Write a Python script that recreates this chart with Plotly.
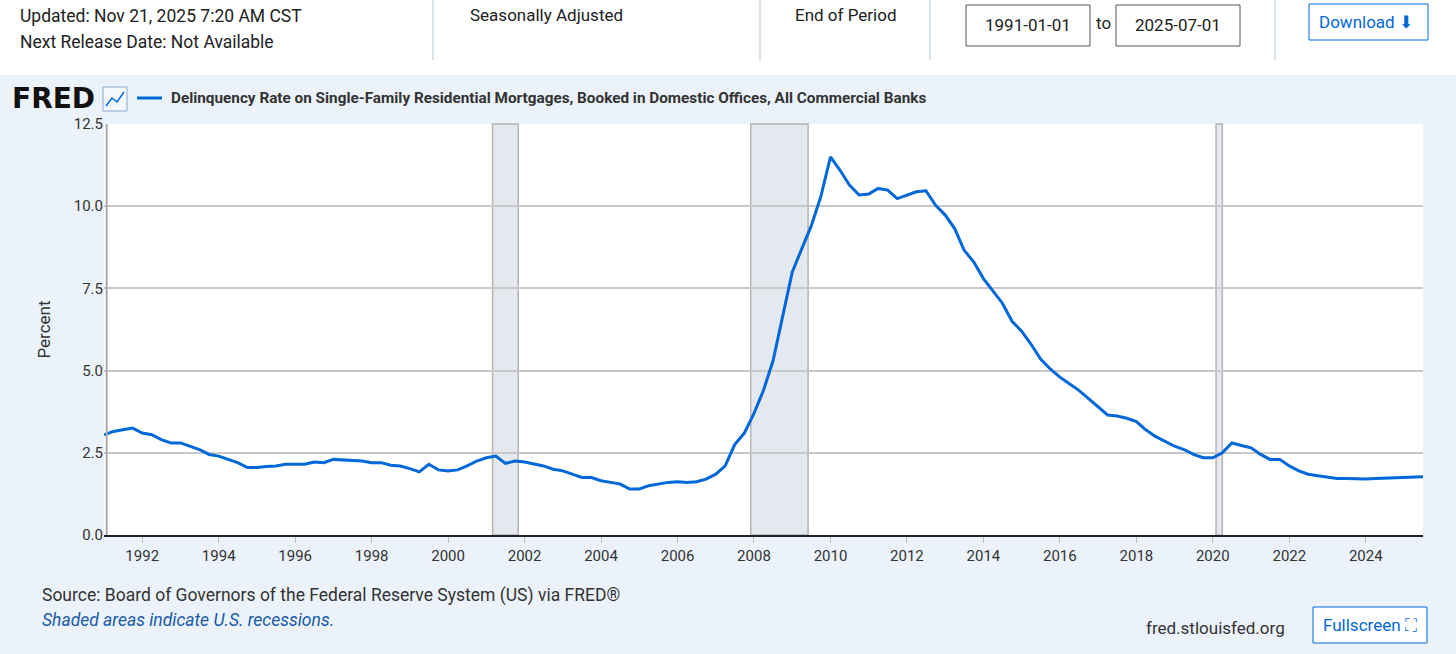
import plotly.graph_objects as go

start_year = 1991
values = [
 3.05,3.15,3.2,3.25, 3.1,3.05,2.9,2.8, 2.8,2.7,2.6,2.45, 2.4,2.3,2.2,2.05,
 2.05,2.08,2.1,2.15, 2.15,2.15,2.22,2.2, 2.3,2.28,2.27,2.25, 2.2,2.2,2.12,2.1,
 2.02,1.92,2.15,1.98, 1.95,1.98,2.1,2.25, 2.35,2.4,2.18,2.25, 2.22,2.15,2.1,2.0,
 1.95,1.85,1.75,1.75, 1.65,1.6,1.55,1.4, 1.4,1.5,1.55,1.6, 1.62,1.6,1.62,1.7,
 1.85,2.1,2.75,3.1, 3.7,4.4,5.3,6.7, 8.0,8.7,9.4,10.3, 11.5,11.1,10.64,10.34,
 10.37,10.54,10.49,10.23, 10.34,10.44,10.47,10.03, 9.73,9.32,8.66,8.3,
 7.8,7.44,7.05,6.5, 6.2,5.8,5.35,5.05, 4.8,4.6,4.4,4.15, 3.9,3.65,3.62,3.55,
 3.45,3.2,3.0,2.85, 2.7,2.6,2.45,2.35, 2.35,2.5,2.8,2.72, 2.65,2.45,2.3,2.3,
 2.1,1.95,1.85,1.8, 1.75,1.72,1.72,1.7, 1.7,1.72,1.73,1.75, 1.76,1.77,1.77]
dates = []
for i in range(len(values)):
    y = start_year + i // 4
    m = 1 + 3 * (i % 4)
    dates.append(f"{y}-{m:02d}-01")

recessions = [("2001-03-01", "2001-11-01"), ("2007-12-01", "2009-06-01"), ("2020-02-01", "2020-04-01")]
y_ticks = [0, 2.5, 5.0, 7.5, 10.0, 12.5]
x_ticks = [f"{y}-01-01" for y in range(1992, 2025, 2)]

W, H = 1456, 654
L, R, T, B = 104, 33, 124, 119
pw, ph = W - L - R, H - T - B
def px(x): return (x - L) / pw
def py(y): return 1 - (y - T) / ph

BLUE = "#0068d8"
fig = go.Figure()
fig.add_trace(go.Scatter(x=dates, y=values, mode="lines", line=dict(color=BLUE, width=3), hoverinfo="skip", showlegend=False))

shapes = []
shapes.append(dict(type="rect", xref="paper", yref="paper", x0=px(0), x1=px(W), y0=py(75), y1=py(0), fillcolor="white", line=dict(width=0), layer="below"))
for sx in [433, 760, 930, 1275]:
    shapes.append(dict(type="line", xref="paper", yref="paper", x0=px(sx), x1=px(sx), y0=py(60), y1=py(0), line=dict(color="#d5e3ea", width=2)))
for bx0, bx1 in [(966, 1090), (1116, 1240)]:
    shapes.append(dict(type="rect", xref="paper", yref="paper", x0=px(bx0), x1=px(bx1), y0=py(46), y1=py(5), line=dict(color="#555", width=1), fillcolor="white"))
shapes.append(dict(type="rect", xref="paper", yref="paper", x0=px(1309), x1=px(1428), y0=py(40), y1=py(4), line=dict(color=BLUE, width=1), fillcolor="white"))
shapes.append(dict(type="rect", xref="paper", yref="paper", x0=px(1313), x1=px(1427), y0=py(643), y1=py(607), line=dict(color=BLUE, width=1), fillcolor="white"))
shapes.append(dict(type="rect", xref="paper", yref="paper", x0=0, x1=1, y0=0, y1=1, fillcolor="white", line=dict(width=0), layer="below"))
for a, b in recessions:
    shapes.append(dict(type="rect", xref="x", yref="paper", x0=a, x1=b, y0=0, y1=1, fillcolor="#e5e8ee", line=dict(color="#b4b4b4", width=1.5), layer="below"))
shapes.append(dict(type="line", xref="paper", yref="paper", x0=px(137), x1=px(162), y0=py(98), y1=py(98), line=dict(color=BLUE, width=3)))
shapes.append(dict(type="rect", xref="paper", yref="paper", x0=px(103), x1=px(127), y0=py(111), y1=py(87), line=dict(color="#8aa8c8", width=1), fillcolor="#f4f8fc"))
shapes.append(dict(type="path", xref="paper", yref="paper", path=f"M {px(106)},{py(106)} L {px(112)},{py(98)} L {px(117)},{py(102)} L {px(124)},{py(92)}", line=dict(color=BLUE, width=1.5)))

ann = []
def text(x, y, s, size=17, color="#222", anchor="left", bold=False, italic=False):
    if bold: s = f"<b>{s}</b>"
    if italic: s = f"<i>{s}</i>"
    ann.append(dict(xref="paper", yref="paper", x=px(x), y=py(y), text=s, showarrow=False, xanchor=anchor, yanchor="middle", font=dict(size=size, color=color, family="Roboto")))
text(18, 16, "Updated: Nov 21, 2025 7:20 AM CST", size=17.5)
text(18, 42, "Next Release Date: Not Available", size=17.5)
text(468, 15, "Seasonally Adjusted")
text(793, 15, "End of Period")
text(1028, 25, "1991-01-01", anchor="center")
text(1103, 23, "to", anchor="center")
text(1178, 25, "2025-07-01", anchor="center")
text(1366, 22, "Download ⬇", color=BLUE, anchor="center")
text(1370, 625, "Fullscreen ⛶", color=BLUE, anchor="center")
ann.append(dict(xref="paper", yref="paper", x=px(10), y=py(99), text="<b>FRED</b>", showarrow=False, xanchor="left", yanchor="middle", font=dict(size=28, color="#111", family="DejaVu Sans")))
text(169, 98, "Delinquency Rate on Single-Family Residential Mortgages, Booked in Domestic Offices, All Commercial Banks", size=15.3, color="#333", bold=True)
text(40, 595, "Source: Board of Governors of the Federal Reserve System (US) via FRED®", size=17.5, color="#333")
text(40, 620, "Shaded areas indicate U.S. recessions.", size=17.5, color="#1a5aa8", italic=True)
text(1287, 628, "fred.stlouisfed.org", size=17, color="#333", anchor="right")

fig.update_layout(
    width=W, height=H, margin=dict(l=L, r=R, t=T, b=B),
    paper_bgcolor="#ebf2fa", plot_bgcolor="white",
    shapes=shapes, annotations=ann,
    font=dict(family="Roboto", color="#333"),
    xaxis=dict(range=["1991-01-01", "2025-07-01"], tickvals=x_ticks, ticktext=[t[:4] for t in x_ticks],
               showgrid=False, ticks="outside", ticklen=6, tickcolor="#bbb", showline=True, linecolor="#222", linewidth=2,
               tickfont=dict(size=15, color="#333"), zeroline=False),
    yaxis=dict(range=[0, 12.5], tickvals=y_ticks, ticktext=[f"{v:.1f}" for v in y_ticks], showgrid=True, gridcolor="#c8c8c8", gridwidth=2,
               tickfont=dict(size=15, color="#333"), zeroline=False, showline=False, ticks="",
               title=dict(text="Percent", font=dict(size=17, color="#333"), standoff=18)),
)
fig.add_shape(type="line", xref="paper", yref="paper", x0=0.002, x1=0.002, y0=0, y1=1, line=dict(color="#aaa", width=2))
fig.write_html("out.html", config={"displayModeBar": False}, post_script="document.body.style.margin='0';")
